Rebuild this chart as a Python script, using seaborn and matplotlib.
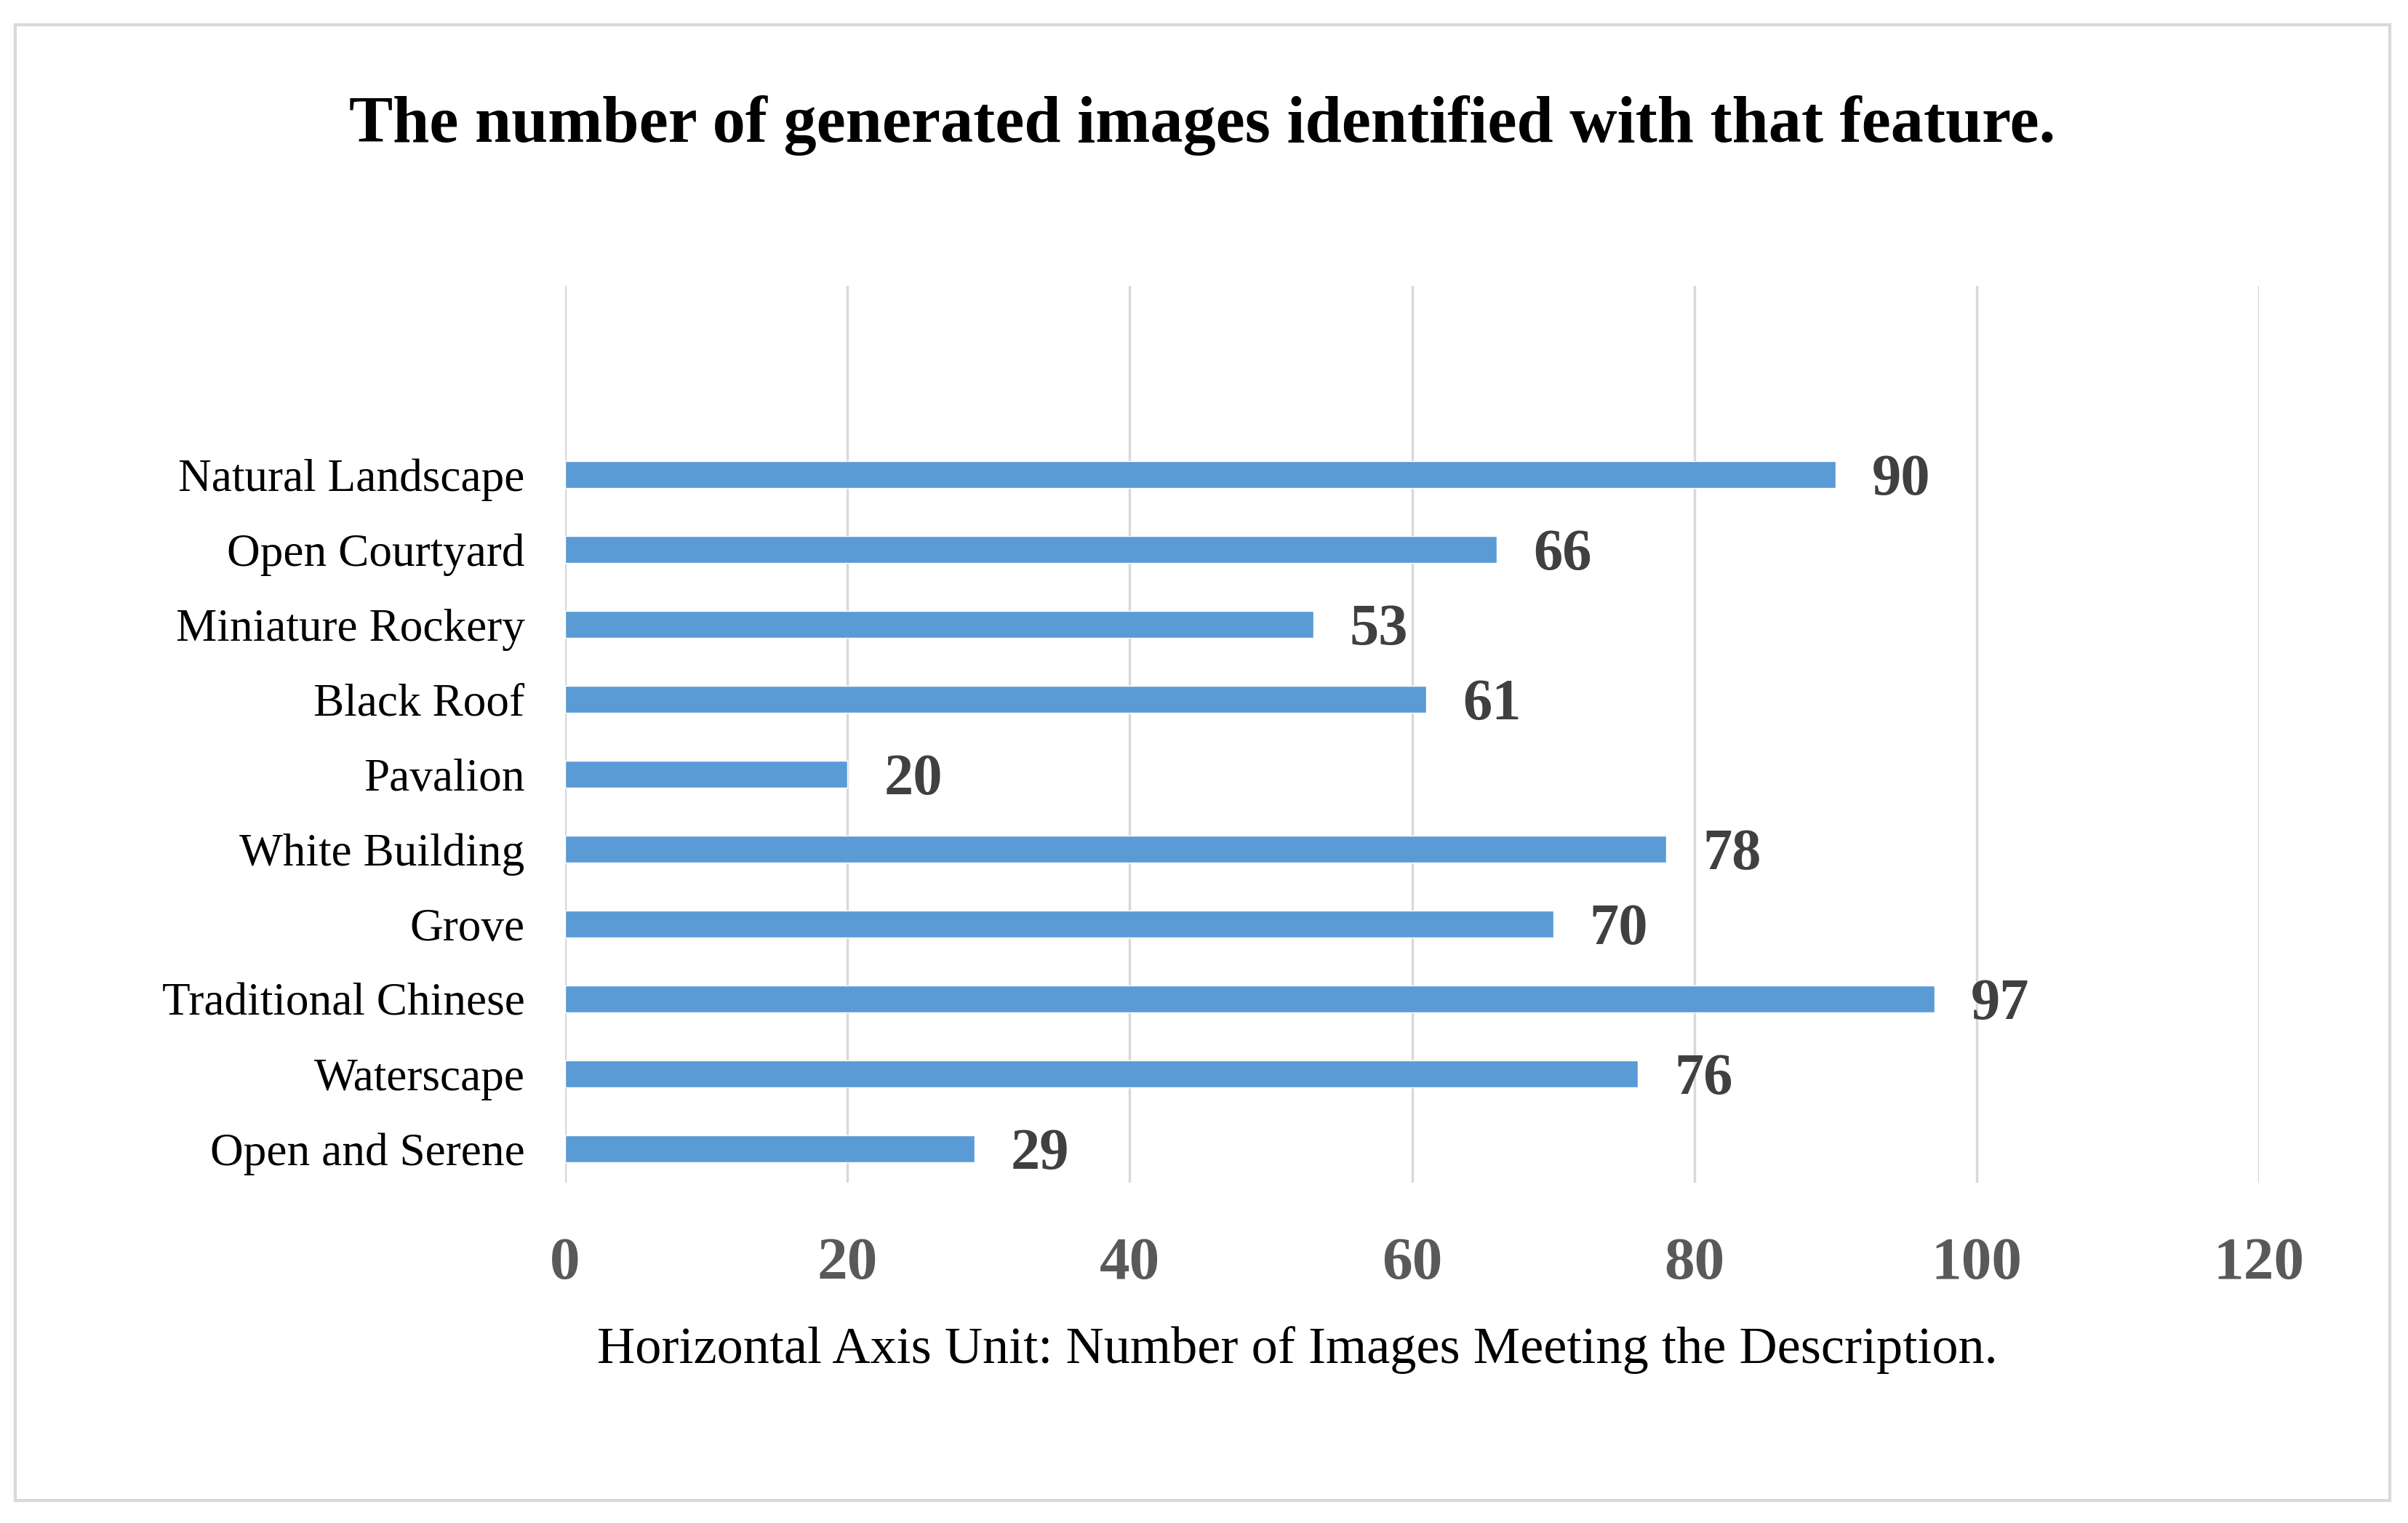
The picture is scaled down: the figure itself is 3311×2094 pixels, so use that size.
import matplotlib
matplotlib.use("Agg")
import matplotlib.pyplot as plt
import seaborn as sns
import pandas as pd
from matplotlib.patches import Rectangle

categories = ["Natural Landscape", "Open Courtyard", "Miniature Rockery", "Black Roof",
              "Pavalion", "White Building", "Grove", "Traditional Chinese",
              "Waterscape", "Open and Serene"]
values = [90, 66, 53, 61, 20, 78, 70, 97, 76, 29]
xticks = [0, 20, 40, 60, 80, 100, 120]

title = "The number of generated images identified with that feature."
xlabel = "Horizontal Axis Unit: Number of Images Meeting the Description."

sns.set_theme(style="white")
plt.rcParams["font.family"] = ["Liberation Serif", "DejaVu Serif"]

df = pd.DataFrame({"feature": categories, "count": values})

fig = plt.figure(figsize=(33.11, 20.94), dpi=100)
ax = fig.add_axes([0.2347, 0.2235, 0.9381 - 0.2347, 0.8123 - 0.2235])

sns.barplot(data=df, x="count", y="feature", orient="h", color="#5B9BD5",
            saturation=1, width=0.36, ax=ax, zorder=3)

ax.set_xlim(0, 120)
ax.set_ylim(9.45, -2.52)
ax.set_xticks(xticks)
ax.set_xticklabels([str(t) for t in xticks], fontsize=60, fontweight="bold", color="#595959")
ax.tick_params(axis="x", length=0, pad=54)
ax.tick_params(axis="y", length=0, pad=40, labelsize=45.5, labelcolor="#000000")
ax.grid(axis="x", color="#d9d9d9", linewidth=2.5, zorder=0)
ax.grid(axis="y", visible=False)
for s in ax.spines.values():
    s.set_visible(False)
ax.set_xlabel("")
ax.set_ylabel("")

for c in ax.containers:
    labels = ax.bar_label(c, fmt="%d", padding=36, fontsize=58, fontweight="bold", color="#404040")
    for t in labels:
        x, y = t.xyann
        t.xyann = (x, y - 6)

fig.text(0.4993, 1 - 172 / 2094, title, ha="center", va="center", fontsize=65, fontweight="bold", color="#000000")
fig.text(845 / 1568, 1 - 1856 / 2094, xlabel, ha="center", va="center", fontsize=52, color="#000000")

fig.patches.append(Rectangle((21 / 3311, 1 - 2063 / 2094), (3286 - 21) / 3311, (2063 - 34) / 2094,
                             transform=fig.transFigure, fill=False, edgecolor="#d9d9d9", linewidth=3))

fig.savefig("out.png", dpi=100, facecolor="white")
